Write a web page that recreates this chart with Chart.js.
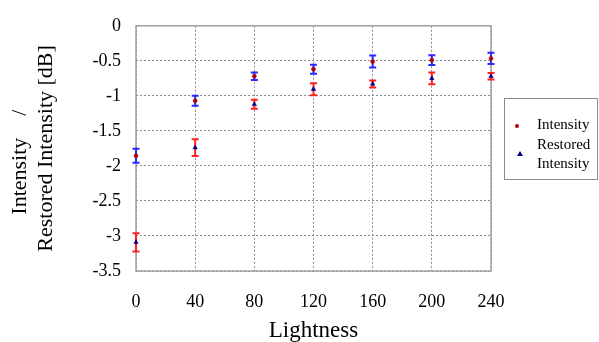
<!DOCTYPE html>
<html>
<head>
<meta charset="utf-8">
<script src="https://cdn.jsdelivr.net/npm/chart.js@4.4.1/dist/chart.umd.min.js"></script>
<style>
  html, body { margin: 0; padding: 0; background: #fff; }
  #wrap { width: 599px; height: 342px; }
</style>
</head>
<body>
<div id="wrap"><canvas id="grafica" width="599" height="342"></canvas></div>
<script>
// ── datos ──
const lightness = [0, 40, 80, 120, 160, 200, 240];

const intensity    = [-1.855, -1.07, -0.72, -0.62, -0.51, -0.49, -0.465];
const intensityErr = [0.10, 0.07, 0.055, 0.065, 0.085, 0.07, 0.08];

const restored    = [-3.09, -1.74, -1.12, -0.905, -0.83, -0.75, -0.72];
const restoredErr = [0.13, 0.12, 0.065, 0.085, 0.05, 0.085, 0.045];

const xTicks = [0, 40, 80, 120, 160, 200, 240];
const yTicks = [0, -0.5, -1, -1.5, -2, -2.5, -3, -3.5];

const fuente = "'Liberation Serif', 'Times New Roman', serif";

// colores
const rojoMarca = "#b00000";
const azulMarca = "#000090";
const rojoBarra = "#ff2020";
const azulBarra = "#2a2aff";
const gris = "#8c8c8c";
const grisMarco = "#a0a0a0";

function puntos(ys) {
  return lightness.map((x, i) => ({ x: x, y: ys[i] }));
}

// barras de error (se dibujan antes que los marcadores)
const barrasError = {
  id: "barrasError",
  beforeDatasetsDraw(chart) {
    const { ctx, chartArea, scales: { x, y } } = chart;
    // marco del área de la gráfica
    ctx.save();
    ctx.strokeStyle = grisMarco;
    ctx.lineWidth = 1.5;
    ctx.strokeRect(chartArea.left, chartArea.top, chartArea.width, chartArea.height);
    ctx.restore();

    chart.data.datasets.forEach(ds => {
      ctx.save();
      ctx.strokeStyle = ds.errColor;
      ctx.lineWidth = 2;
      ds.data.forEach((p, i) => {
        const px = x.getPixelForValue(p.x);
        const y1 = y.getPixelForValue(p.y + ds.err[i]);
        const y2 = y.getPixelForValue(p.y - ds.err[i]);
        ctx.beginPath();
        ctx.moveTo(px, y1); ctx.lineTo(px, y2);
        ctx.moveTo(px - 3.5, y1); ctx.lineTo(px + 3.5, y1);
        ctx.moveTo(px - 3.5, y2); ctx.lineTo(px + 3.5, y2);
        ctx.stroke();
      });
      ctx.restore();
    });
  }
};

// leyenda con recuadro, a la derecha
const leyenda = {
  id: "leyenda",
  afterDraw(chart) {
    const ctx = chart.ctx;
    ctx.save();
    ctx.strokeStyle = gris;
    ctx.lineWidth = 1;
    ctx.strokeRect(504.5, 98.5, 93, 81);

    ctx.fillStyle = rojoMarca;
    ctx.beginPath();
    ctx.arc(517, 126, 2, 0, Math.PI * 2);
    ctx.fill();

    ctx.fillStyle = azulMarca;
    ctx.beginPath();
    ctx.moveTo(520, 151); ctx.lineTo(523, 156); ctx.lineTo(517, 156);
    ctx.closePath();
    ctx.fill();

    ctx.fillStyle = "#000";
    ctx.font = "15px " + fuente;
    ctx.textBaseline = "middle";
    ctx.textAlign = "left";
    ctx.fillText("Intensity", 537, 125);
    ctx.fillText("Restored", 537, 145);
    ctx.fillText("Intensity", 537, 164);
    ctx.restore();
  }
};

new Chart(document.getElementById("grafica"), {
  type: "scatter",
  data: {
    datasets: [
      {
        label: "Intensity",
        data: puntos(intensity),
        err: intensityErr,
        errColor: azulBarra,
        pointStyle: "circle",
        pointRadius: 2,
        backgroundColor: rojoMarca,
        borderColor: rojoMarca,
        borderWidth: 0.5,
        clip: false
      },
      {
        label: "Restored Intensity",
        data: puntos(restored),
        err: restoredErr,
        errColor: rojoBarra,
        pointStyle: "triangle",
        pointRadius: 2.6,
        backgroundColor: azulMarca,
        borderColor: azulMarca,
        borderWidth: 0.5,
        clip: false
      }
    ]
  },
  options: {
    responsive: false,
    animation: false,
    layout: { padding: { top: 15, right: 108, left: 0, bottom: 0 } },
    plugins: {
      legend: { display: false },
      tooltip: { enabled: false }
    },
    scales: {
      x: {
        type: "linear",
        min: 0,
        max: 240,
        afterFit: s => { s.height = 71; },
        afterBuildTicks: s => { s.ticks = xTicks.map(v => ({ value: v })); },
        ticks: {
          padding: 20,
          color: "#000",
          font: { size: 18, family: fuente }
        },
        grid: { color: gris, lineWidth: 1, drawTicks: false },
        border: { display: false, dash: [2, 2] },
        title: {
          display: true,
          text: "Lightness",
          color: "#000",
          font: { size: 23, family: fuente, lineHeight: 1 },
          padding: { top: 0, bottom: 0 }
        }
      },
      y: {
        min: -3.5,
        max: 0,
        afterFit: s => { s.width = 136; },
        afterBuildTicks: s => { s.ticks = yTicks.map(v => ({ value: v })); },
        ticks: {
          padding: 15,
          color: "#000",
          font: { size: 18, family: fuente },
          callback: v => String(+v.toFixed(2))
        },
        grid: { color: gris, lineWidth: 1, drawTicks: false },
        border: { display: false, dash: [2, 2] },
        title: {
          display: true,
          text: ["Intensity    /     ", "Restored Intensity [dB]"],
          color: "#000",
          font: { size: 22, family: fuente, lineHeight: 1.15 },
          padding: { top: 8, bottom: 0 }
        }
      }
    }
  },
  plugins: [barrasError, leyenda]
});
</script>
</body>
</html>
